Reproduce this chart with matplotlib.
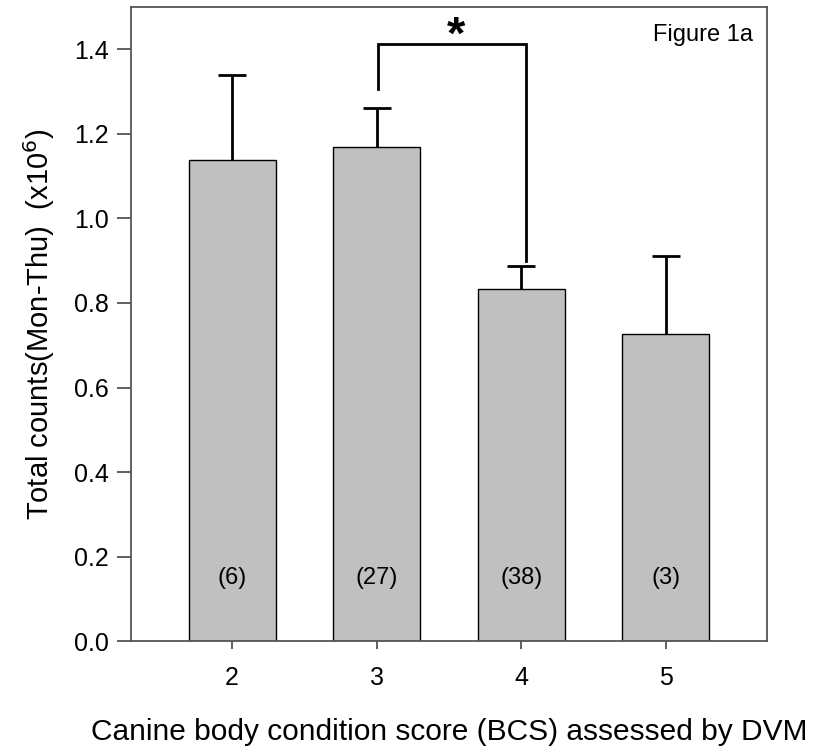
import numpy as np
import matplotlib.pyplot as plt

plt.rcParams['font.family'] = ['Liberation Sans', 'DejaVu Sans']

# mean totals per BCS group (x10^6), SEM, and group sizes
bcs = [2, 3, 4, 5]
means = [1.139, 1.168, 0.832, 0.727]
sem = [0.199, 0.092, 0.055, 0.184]
n_dogs = ['(6)', '(27)', '(38)', '(3)']

fig = plt.figure(figsize=(8.16, 7.52), dpi=100)
ax = fig.add_axes([0.1605, 0.147, 0.7795, 0.844])

ax.bar(bcs, means, width=0.6, color='#c0c0c0', edgecolor='black', linewidth=1.0, zorder=2)
eb = ax.errorbar(bcs, means, yerr=[np.zeros(len(sem)), sem], fmt='none', ecolor='black',
                 elinewidth=2.0, capsize=10, capthick=2.0, zorder=3)
# only the upper half of each error bar is shown
eb[1][0].set_visible(False)

for x, lab in zip(bcs, n_dogs):
    ax.text(x, 0.15, lab, ha='center', va='center', fontsize=17)

# significance bracket between BCS 3 and 4
ax.plot([3.01, 3.01, 4.03, 4.03], [1.305, 1.413, 1.413, 0.90], color='black', lw=2.0,
        solid_joinstyle='miter', zorder=3)
ax.text(3.55, 1.43, '*', ha='center', va='center', fontsize=34, fontweight='bold')

ax.text(0.978, 0.955, 'Figure 1a', transform=ax.transAxes, ha='right', va='center', fontsize=17)

ax.set_xlim(1.3, 5.7)
ax.set_ylim(0, 1.5)
ax.set_xticks(bcs)
ax.set_yticks(np.arange(0, 1.41, 0.2))
ax.set_yticklabels(['%.1f' % v for v in np.arange(0, 1.41, 0.2)])
ax.tick_params(direction='out', width=1.2, color='#444444', labelsize=18)
ax.tick_params(axis='y', length=10, pad=6)
ax.tick_params(axis='x', length=6, pad=12)
for s in ax.spines.values():
    s.set_color('#555555')
    s.set_linewidth(1.3)

ax.set_xlabel('Canine body condition score (BCS) assessed by DVM', fontsize=21.5, labelpad=20)
ax.set_ylabel('Total counts(Mon-Thu)  (x10$^{6}$)', fontsize=21, labelpad=12)

fig.savefig('out.png', dpi=100)
